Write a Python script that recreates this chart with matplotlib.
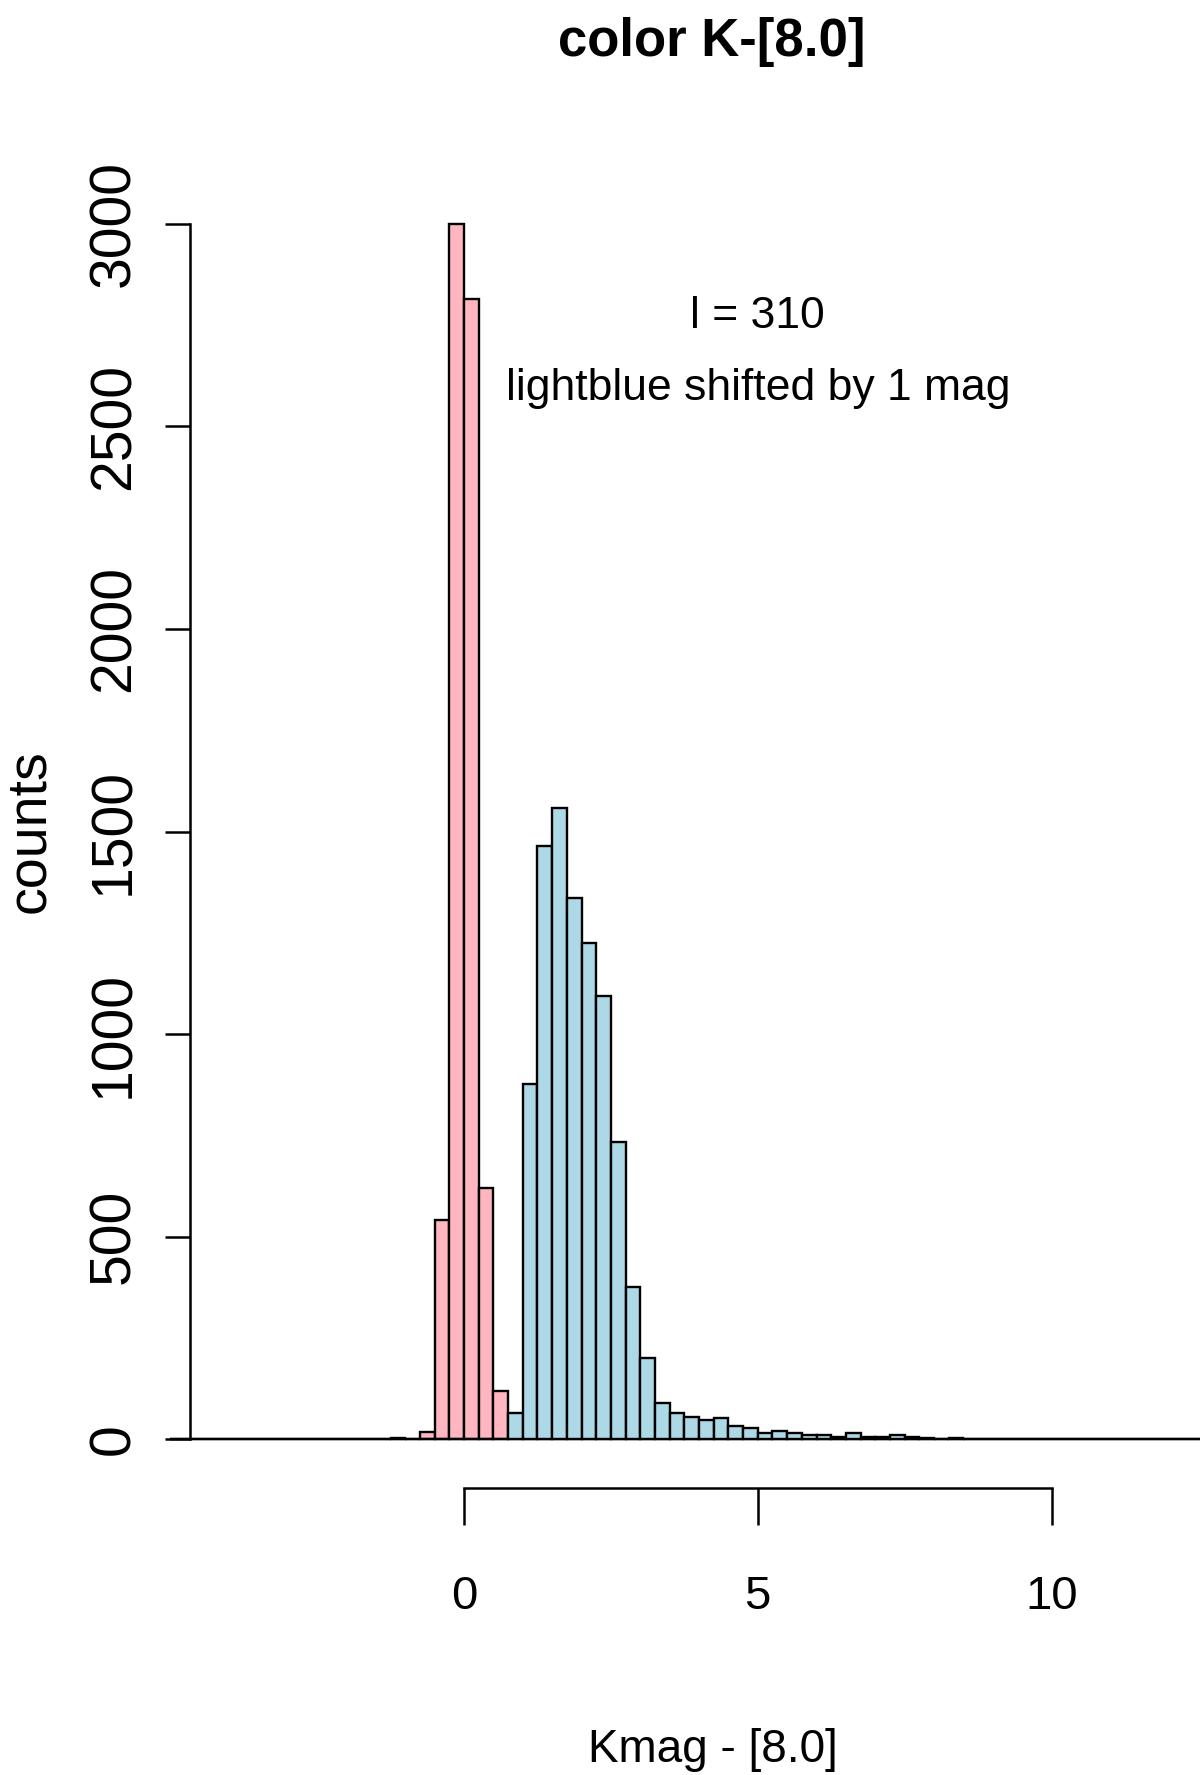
import numpy as np
import matplotlib
matplotlib.use("Agg")
from matplotlib import pyplot as plt

# histogram bins (0.25 mag wide)
bin_lo, bin_hi, bin_w = -5.0, 13.0, 0.25

# pink histogram: K - [8.0]
pink_start = -0.75
pink_counts = [19, 542, 3000, 2815, 621, 120]
pink_tail_x = [-4.0, -2.0, -1.25]
pink_tail_n = [2, 2, 3]

# lightblue histogram (shifted by 1 mag)
blue_start = 0.75
blue_counts = [64, 878, 1465, 1557, 1336, 1225, 1093, 735, 375, 201, 89, 66,
               54, 49, 52, 33, 27, 16, 21, 16, 11, 11, 7, 16, 7, 5, 10, 5, 3,
               0, 3, 0, 2, 2]

yticks = [0, 500, 1000, 1500, 2000, 2500, 3000]
xticks = [0, 5, 10]

edges = np.arange(bin_lo, bin_hi + 1e-9, bin_w)
lefts = edges[:-1]

def full_counts(start, counts):
    out = np.zeros(len(lefts))
    i0 = int(round((start - bin_lo) / bin_w))
    out[i0:i0 + len(counts)] = counts
    return out

pink = full_counts(pink_start, pink_counts)
for x, n in zip(pink_tail_x, pink_tail_n):
    pink[int(round((x - bin_lo) / bin_w))] = n
blue = full_counts(blue_start, blue_counts)

fam = ['Liberation Sans', 'DejaVu Sans']

W, H = 1200, 1775
fig = plt.figure(figsize=(12, 17.75), dpi=100)
ax = fig.add_axes([190 / W, 1 - 1488 / H, 1046 / W, (1488 - 175) / H])

ax.bar(lefts, pink, width=bin_w, align='edge', color='lightpink',
       edgecolor='black', linewidth=1.7, clip_on=False)
ax.bar(lefts, blue, width=bin_w, align='edge', color='lightblue',
       edgecolor='black', linewidth=1.7, clip_on=False)

ax.set_xlim(-4.664, -4.664 + 1046 / 58.75)
ax.set_ylim(-120, 3120)

for s in ['top', 'right']:
    ax.spines[s].set_visible(False)
ax.spines['left'].set_bounds(0, 3000)
ax.spines['bottom'].set_bounds(0, 10)
ax.spines['left'].set_linewidth(1.8)
ax.spines['bottom'].set_linewidth(1.8)

ax.set_yticks(yticks)
ax.set_yticklabels([str(v) for v in yticks], rotation=90, va='center',
                   family=fam, fontsize=41)
ax.set_xticks(xticks)
ax.set_xticklabels([str(v) for v in xticks], family=fam, fontsize=34)
ax.tick_params(axis='y', length=18, width=1.8, pad=17)
ax.tick_params(axis='x', length=26.6, width=1.8, pad=36)

ax.set_xlabel('Kmag - [8.0]', family=fam, fontsize=33)
ax.xaxis.set_label_coords(0.5, (1488 - 1762) / 1313)
ax.xaxis.label.set_va('baseline')
ax.set_ylabel('counts', family=fam, fontsize=40)
ax.yaxis.set_label_coords((30 - 190) / 1046, 0.5)
ax.yaxis.label.set_va('center')

ax.text(5, 2743, 'l = 310', ha='center', va='baseline', family=fam,
        fontsize=32)
ax.text(5, 2565, 'lightblue shifted by 1 mag', ha='center', va='baseline',
        family=fam, fontsize=32)

fig.text(712 / W, 1 - 56 / H, 'color K-[8.0]', ha='center', va='baseline',
         family=fam, fontsize=38, fontweight='bold')

fig.savefig('out.png', dpi=100)
